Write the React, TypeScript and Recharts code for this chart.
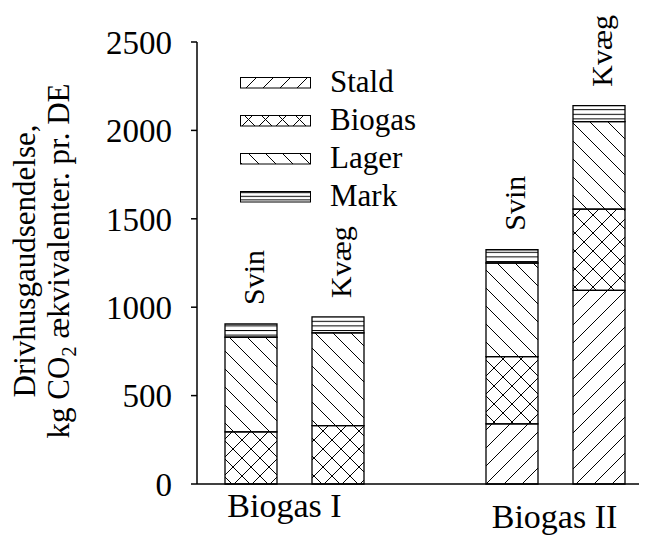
import { BarChart, Bar, XAxis, YAxis, Legend, LabelList } from "recharts";

const FONT = '"Liberation Serif", "Times New Roman", serif';

// categories (the empty one makes the gap between Biogas I and Biogas II)
const ids = ["I-svin", "I-kvaeg", "gap", "II-svin", "II-kvaeg"];
const groups = ["Biogas I", "Biogas I", "", "Biogas II", "Biogas II"];
const animals = ["Svin", "Kvæg", "", "Svin", "Kvæg"];

// kg CO2 ækv. pr. DE
const stald = [0, 0, null, 340, 1095];
const biogas = [295, 330, null, 380, 460];
const lager = [535, 525, null, 530, 495];
const mark = [75, 90, null, 75, 90];

const yTicks = [0, 500, 1000, 1500, 2000, 2500];

const series = [
  { key: "stald", name: "Stald", pattern: "stald" },
  { key: "biogas", name: "Biogas", pattern: "biogas" },
  { key: "lager", name: "Lager", pattern: "lager" },
  { key: "mark", name: "Mark", pattern: "mark" },
];

const data = ids.map((id, i) => ({
  id,
  group: groups[i],
  animal: animals[i],
  stald: stald[i],
  biogas: biogas[i],
  lager: lager[i],
  mark: mark[i],
}));

// hatch patterns, prefix keeps ids unique between chart and legend svg
function Patterns({ prefix, step, markStep }: { prefix: string; step: number; markStep: number }) {
  const s = step;
  const line = { stroke: "#000", strokeWidth: 1 };
  return (
    <defs>
      <pattern id={`${prefix}stald`} patternUnits="userSpaceOnUse" width={s} height={s}>
        <path d={`M0,${s} L${s},0 M-2,2 L2,-2 M${s - 2},${s + 2} L${s + 2},${s - 2}`} {...line} />
      </pattern>
      <pattern id={`${prefix}lager`} patternUnits="userSpaceOnUse" width={s} height={s}>
        <path d={`M0,0 L${s},${s} M-2,${s - 2} L2,${s + 2} M${s - 2},-2 L${s + 2},2`} {...line} />
      </pattern>
      <pattern id={`${prefix}biogas`} patternUnits="userSpaceOnUse" width={s} height={s}>
        <path
          d={`M0,${s} L${s},0 M-2,2 L2,-2 M${s - 2},${s + 2} L${s + 2},${s - 2} M0,0 L${s},${s} M-2,${s - 2} L2,${s + 2} M${s - 2},-2 L${s + 2},2`}
          {...line}
        />
      </pattern>
      <pattern id={`${prefix}mark`} patternUnits="userSpaceOnUse" width={10} height={markStep}>
        <path d={`M0,0.5 L10,0.5`} {...line} />
      </pattern>
    </defs>
  );
}

const YAxisTitle = () => (
  <g fontFamily={FONT} fontSize={31} fill="#000">
    <text x={27} y={253} transform="rotate(-90 27 253)" textAnchor="middle">
      Drivhusgaudsendelse,
    </text>
    <text x={61} y={253} transform="rotate(-90 61 253)" textAnchor="middle">
      kg CO
      <tspan dy={7} fontSize={21}>2</tspan>
      <tspan dy={-7}> ækvivalenter. pr. DE</tspan>
    </text>
  </g>
);

// group label offsets relative to the first bar of each group
const groupLabelPos: Record<string, { dx: number; dy: number }> = {
  "Biogas I": { dx: 34, dy: 33 },
  "Biogas II": { dx: 43, dy: 44 },
};

const GroupTick = (props: any) => {
  const { x, y, payload } = props;
  const i = payload.index;
  const g = groups[i];
  if (!g || groups[i - 1] === g) return <g />;
  const pos = groupLabelPos[g];
  return (
    <text x={x + pos.dx} y={y + pos.dy} textAnchor="middle" fontFamily={FONT} fontSize={34} fill="#000">
      {g}
    </text>
  );
};

const AnimalLabel = (props: any) => {
  const { x, y, width, value } = props;
  if (!value) return null;
  const lx = x + width / 2 + 13;
  const ly = y - 19;
  return (
    <text
      x={lx}
      y={ly}
      transform={`rotate(-90 ${lx} ${ly})`}
      textAnchor="start"
      fontFamily={FONT}
      fontSize={30}
      fill="#000"
    >
      {value}
    </text>
  );
};

// legend svg has 20px headroom so the first text is not clipped
const LegendBox = () => (
  <svg width={220} height={180} style={{ display: "block" }}>
    <Patterns prefix="lg-" step={17} markStep={3.6} />
    <g transform="translate(0 20)">
      {series.map((s, i) => (
        <g key={s.key}>
          <rect x={0.5} y={i * 38 + 0.5} width={70} height={10.5} fill={`url(#lg-${s.pattern})`} stroke="#000" strokeWidth={1} />
          <text x={90} y={i * 38 + 15} fontFamily={FONT} fontSize={31} fill="#000">
            {s.name}
          </text>
        </g>
      ))}
    </g>
  </svg>
);

export default function App() {
  return (
    <BarChart width={639} height={528} data={data} margin={{ top: 34, right: 0, bottom: 0, left: 0 }} barSize={52}>
      <Patterns prefix="ch-" step={18} markStep={4.6} />
      <XAxis
        dataKey="id"
        height={52}
        padding={{ left: 10, right: 5 }}
        axisLine={{ stroke: "#000", strokeWidth: 1.5 }}
        tickLine={false}
        tickSize={0}
        tickMargin={0}
        interval={0}
        tick={<GroupTick />}
      />
      <YAxis
        width={189}
        domain={[0, 2500]}
        ticks={yTicks}
        interval={0}
        axisLine={{ stroke: "#000", strokeWidth: 1.5 }}
        tickLine={{ stroke: "#000", strokeWidth: 1.5 }}
        tickSize={6}
        tickMargin={19}
        tick={{ fontSize: 33, fontFamily: FONT, fill: "#000" }}
        label={<YAxisTitle />}
      />
      <Legend
        layout="horizontal"
        verticalAlign="middle"
        align="center"
        wrapperStyle={{ left: 232, top: 49, width: 220, height: 180 }}
        content={() => <LegendBox />}
      />
      {series.map((s) => (
        <Bar
          key={s.key}
          dataKey={s.key}
          name={s.name}
          stackId="a"
          fill={`url(#ch-${s.pattern})`}
          stroke="#000"
          strokeWidth={1.3}
          isAnimationActive={false}
        >
          {s.key === "mark" && <LabelList dataKey="animal" content={<AnimalLabel />} />}
        </Bar>
      ))}
    </BarChart>
  );
}
